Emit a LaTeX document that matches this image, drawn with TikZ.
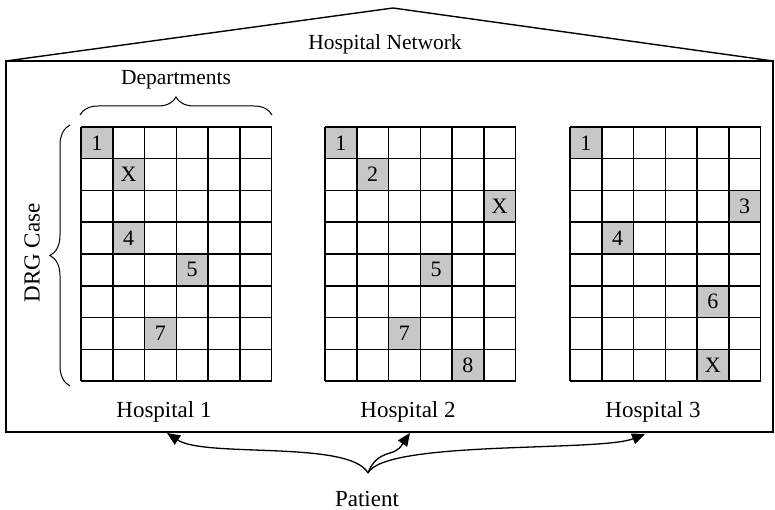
\documentclass[tikz,border=0pt]{standalone}
\usepackage{fontspec}
\setmainfont{Liberation Serif}
\usetikzlibrary{positioning,calc,decorations.pathreplacing,arrows.meta}

% one unit = one point, y runs downwards
\tikzset{
  wall/.style={line width=1.4pt},
  gridline/.style={line width=1.5pt},
  casebox/.style={fill=black!22, minimum width=31.75pt, minimum height=31.75pt,
    inner sep=0pt, font=\fontsize{22}{24}\selectfont},
  label/.style={font=\fontsize{23}{26}\selectfont},
  smalllabel/.style={font=\fontsize{21.5}{24}\selectfont},
  bigbrace/.style={decorate, decoration={brace, amplitude=#1}, line width=1pt},
  patientarrow/.style={line width=1.3pt, -{Triangle[length=13pt,width=11pt]}},
}

% a hospital: 6 departments by 8 DRG cases, left edge at #1
\newcommand{\drggrid}[1]{%
  \foreach \i in {0,...,6}
    \draw[gridline] (#1+\i*31.75,127) -- (#1+\i*31.75,381);
  \foreach \j in {0,...,8}
    \draw[gridline] (#1,127+\j*31.75) -- (#1+190.5,127+\j*31.75);
}
% shaded cell: name, left edge, column, row, text
\newcommand{\casecell}[5]{%
  \node[casebox] (#1) at (#2+#3*31.75-15.875,127+#4*31.75-15.875) {#5};
}

\begin{document}
\begin{tikzpicture}[x=1pt,y=-1pt]
  \useasboundingbox (0,0) rectangle (775,510);

  % building
  \draw[wall] (6,61) -- (393,8) -- (773,61);
  \draw[wall] (6,61) rectangle (773,432);
  \node[smalllabel] (net) at (385,44) {Hospital Network};

  % hospital 1
  \casecell{a1}{81}{1}{1}{1}
  \casecell{ax}{81}{2}{2}{X}
  \casecell{a4}{81}{2}{4}{4}
  \casecell{a5}{81}{4}{5}{5}
  \casecell{a7}{81}{3}{7}{7}
  \drggrid{81}

  % hospital 2
  \casecell{b1}{325}{1}{1}{1}
  \casecell{b2}{325}{2}{2}{2}
  \casecell{bx}{325}{6}{3}{X}
  \casecell{b5}{325}{4}{5}{5}
  \casecell{b7}{325}{3}{7}{7}
  \casecell{b8}{325}{5}{8}{8}
  \drggrid{325}

  % hospital 3
  \casecell{c1}{570}{1}{1}{1}
  \casecell{c3}{570}{6}{3}{3}
  \casecell{c4}{570}{2}{4}{4}
  \casecell{c6}{570}{5}{6}{6}
  \casecell{cx}{570}{5}{8}{X}
  \drggrid{570}

  % braces
  \draw[bigbrace=18pt] (80,115) -- (272,115);
  \node[smalllabel] (dept) at (176,80) {Departments};
  \draw[bigbrace=20pt] (70,386) -- (70,125);
  \node[label, rotate=90] (drg) at (32,253) {DRG Case};

  \node[label] (h1) at (164,412) {Hospital 1};
  \node[label] (h2) at (408,412) {Hospital 2};
  \node[label] (h3) at (653,412) {Hospital 3};
  \node[label] (patient) at (367,499) {Patient};

  % the patient can go to any of them
  \coordinate (src) at (368,473);
  \coordinate (t1) at (167,433);
  \coordinate (t2) at (410,433);
  \coordinate (t3) at (645,434);
  \draw[patientarrow] (src) .. controls (350,440) and (205,458) .. (t1);
  \draw[patientarrow] (src) to[out=70,in=195] (390,453) to[out=15,in=235] (t2);
  \draw[patientarrow] (src) .. controls (385,440) and (600,452) .. (t3);
\end{tikzpicture}
\end{document}
